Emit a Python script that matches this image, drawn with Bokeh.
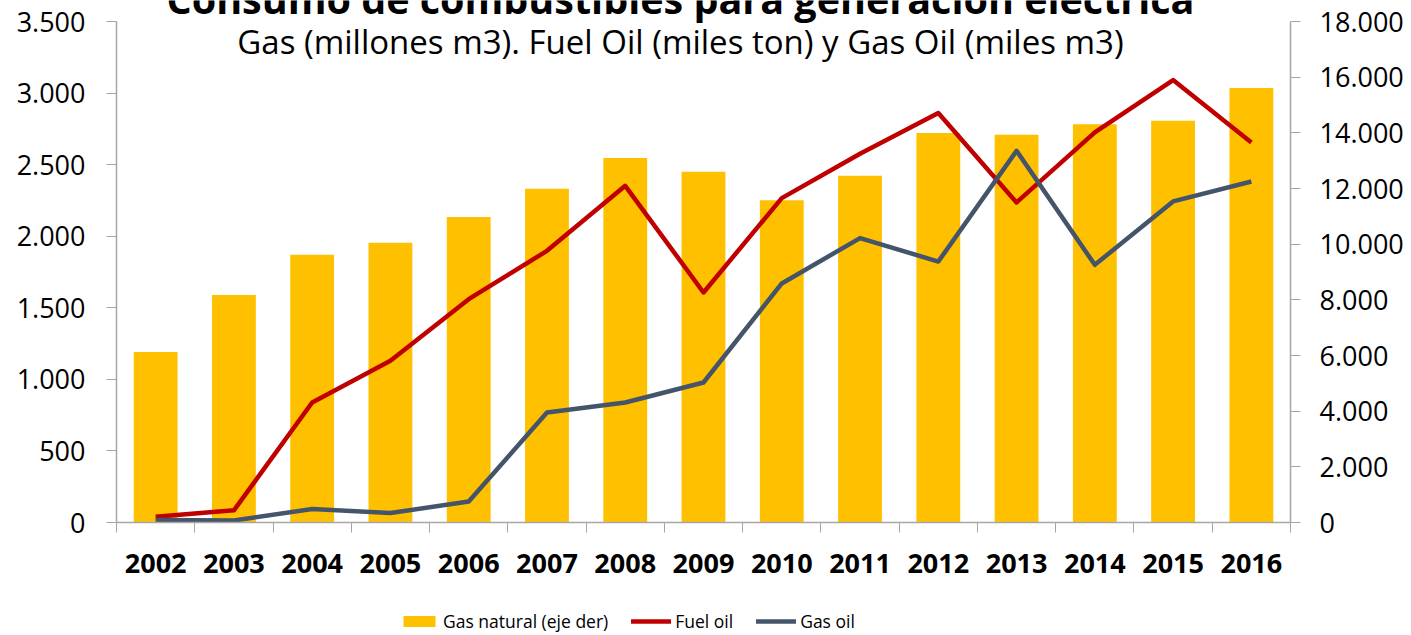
from bokeh.plotting import figure
from bokeh.layouts import column
from bokeh.models import Range1d, LinearAxis, FixedTicker, Legend, LegendItem, Label
from bokeh.embed import file_html
from bokeh.resources import INLINE

# ---- data ----
years = ["2002", "2003", "2004", "2005", "2006", "2007", "2008", "2009",
         "2010", "2011", "2012", "2013", "2014", "2015", "2016"]
gas_natural = [6130, 8170, 9620, 10050, 10980, 11990, 13100, 12600,
               11580, 12460, 13990, 13930, 14310, 14430, 15610]   # eje der
fuel_oil = [40, 85, 838, 1130, 1560, 1898, 2352, 1607,
            2266, 2576, 2861, 2236, 2725, 3091, 2655]
gas_oil = [17, 14, 94, 66, 147, 768, 838, 978,
           1670, 1987, 1823, 2597, 1800, 2243, 2382]
left_ticks = [0, 500, 1000, 1500, 2000, 2500, 3000, 3500]
right_ticks = [0, 2000, 4000, 6000, 8000, 10000, 12000, 14000, 16000, 18000]
series_names = ["Gas natural (eje der)", "Fuel oil", "Gas oil"]
title_text = "Consumo de combustibles para generación eléctrica"
subtitle_text = "Gas (millones m3). Fuel Oil (miles ton) y Gas Oil (miles m3)"

FONT = "Open Sans"
AXIS_GRAY = "#A6A6A6"
C_GAS = "#FFC000"
C_FUEL = "#C00000"
C_GASOIL = "#44546A"

def fmt(v):
    return f"{v:,}".replace(",", ".")

n = len(years)
centers = [i + 0.5 for i in range(n)]

# frame spans from the canvas top down to the x axis; axes are bounded to the
# tick range so that the free space above 3.500 holds the titles
FRAME_H = 522          # px, frame height
AXIS_TOP = 21          # px between canvas top and the 3.500 / 18.000 tick
span = FRAME_H / (FRAME_H - AXIS_TOP)

p = figure(width=1411, height=590,
           x_range=Range1d(0, n), y_range=Range1d(0, left_ticks[-1] * span),
           output_backend="svg", toolbar_location=None,
           min_border_left=116, min_border_right=121,
           min_border_top=0, min_border_bottom=590 - FRAME_H)
p.extra_y_ranges = {"right": Range1d(0, right_ticks[-1] * span)}
p.outline_line_color = None
p.xgrid.visible = False
p.ygrid.visible = False

# bars (right axis)
p.vbar(x=centers, top=gas_natural, width=0.56, bottom=0,
       y_range_name="right", fill_color=C_GAS, line_color=None)
# lines (left axis)
p.line(centers, fuel_oil, line_color=C_FUEL, line_width=4.5, line_join="round")
p.line(centers, gas_oil, line_color=C_GASOIL, line_width=4.5, line_join="round")

# x axis
xa = p.xaxis[0]
xa.ticker = FixedTicker(ticks=centers, minor_ticks=list(range(n + 1)))
xa.major_label_overrides = {c: y for c, y in zip(centers, years)}
xa.major_tick_in = 0
xa.major_tick_out = 0
xa.minor_tick_in = 0
xa.minor_tick_out = 10
xa.minor_tick_line_color = AXIS_GRAY
xa.axis_line_color = AXIS_GRAY
xa.axis_line_width = 1.5
xa.major_label_text_font = FONT
xa.major_label_text_font_style = "bold"
xa.major_label_text_font_size = "27px"
xa.major_label_text_color = "black"
xa.major_label_standoff = 21

# left axis
ya = p.yaxis[0]
ya.bounds = (left_ticks[0], left_ticks[-1])
ya.ticker = FixedTicker(ticks=left_ticks, minor_ticks=[])
ya.major_label_overrides = {v: fmt(v) for v in left_ticks}
ya.major_tick_in = 0
ya.major_tick_out = 10
ya.major_tick_line_color = AXIS_GRAY
ya.axis_line_color = AXIS_GRAY
ya.axis_line_width = 1.5
ya.minor_tick_line_color = None
ya.major_label_text_font = FONT
ya.major_label_text_font_size = "27px"
ya.major_label_text_color = "black"
ya.major_label_standoff = 21

# right axis
ra = LinearAxis(y_range_name="right", bounds=(right_ticks[0], right_ticks[-1]),
                ticker=FixedTicker(ticks=right_ticks, minor_ticks=[]))
ra.major_label_overrides = {v: fmt(v) for v in right_ticks}
ra.major_tick_in = 0
ra.major_tick_out = 10
ra.major_tick_line_color = AXIS_GRAY
ra.axis_line_color = AXIS_GRAY
ra.axis_line_width = 1.5
ra.minor_tick_line_color = None
ra.major_label_text_font = FONT
ra.major_label_text_font_size = "27px"
ra.major_label_text_color = "black"
ra.major_label_standoff = 19
p.add_layout(ra, "right")

# titles
p.add_layout(Label(x=564, y=FRAME_H + 2, x_units="screen", y_units="screen", text=title_text,
                   text_align="center", text_baseline="alphabetic",
                   text_font=FONT, text_font_style="bold", text_font_size="39.5px",
                   text_color="black"))
p.add_layout(Label(x=564, y=FRAME_H - 41, x_units="screen", y_units="screen", text=subtitle_text,
                   text_align="center", text_baseline="alphabetic",
                   text_font=FONT, text_font_size="33px", text_color="black"))

# legend strip
nan = float("nan")
pl = figure(width=1411, height=45, x_range=Range1d(0, 1), y_range=Range1d(0, 1),
            output_backend="svg", toolbar_location=None,
            x_axis_location=None, y_axis_location=None,
            min_border_left=116, min_border_right=121, min_border_top=0, min_border_bottom=0)
pl.outline_line_color = None
pl.xgrid.visible = False
pl.ygrid.visible = False
lb = pl.vbar(x=[nan], top=[nan], width=0.5, fill_color=C_GAS, line_color=None)
lf = pl.line(x=[nan], y=[nan], line_color=C_FUEL, line_width=4.5, line_cap="round")
lgo = pl.line(x=[nan], y=[nan], line_color=C_GASOIL, line_width=4.5, line_cap="round")
legend = Legend(items=[LegendItem(label=series_names[0], renderers=[lb]),
                       LegendItem(label=series_names[1], renderers=[lf]),
                       LegendItem(label=series_names[2], renderers=[lgo])],
                orientation="horizontal", location=(283, 2),
                glyph_width=40, glyph_height=14, label_standoff=4, spacing=23,
                padding=0, margin=0, border_line_alpha=0, background_fill_alpha=0,
                label_text_font=FONT, label_text_font_size="17.5px",
                label_text_color="black")
pl.add_layout(legend)

layout = column(p, pl, spacing=0)
open("out.html", "w").write(file_html(layout, INLINE))
